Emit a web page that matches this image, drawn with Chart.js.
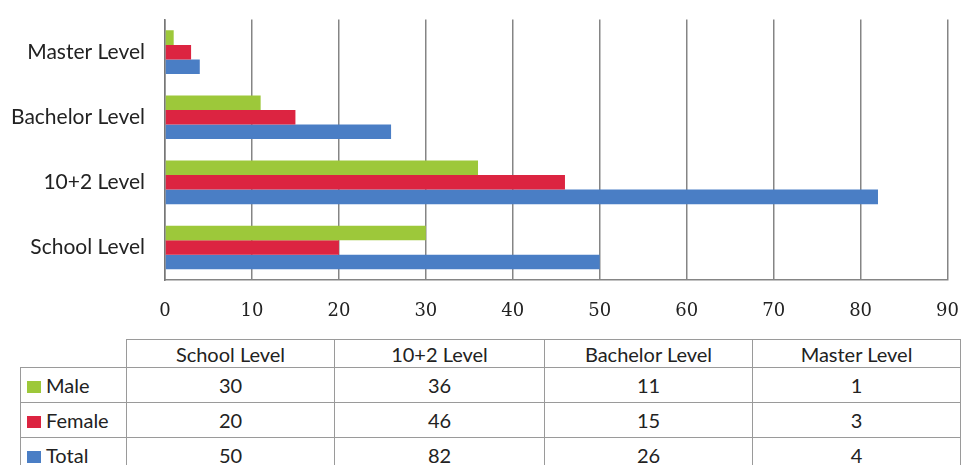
<!DOCTYPE html>
<html>
<head>
	<title>Education levels</title>
	<script src="https://cdn.jsdelivr.net/npm/chart.js@4.4.1/dist/chart.umd.min.js"></script>
	<style>
		body { margin: 0; background: #fff; width: 962px; height: 465px; overflow: hidden; position: relative; }
		#chart-box { position: absolute; left: 0; top: -13px; width: 980px; height: 333px; }
		#data-table { position: absolute; left: 20px; top: 339px; border-collapse: collapse; font-family: Lato, "Noto Sans", sans-serif; font-size: 20px; color: #222; }
		#data-table td, #data-table th { border: 1.5px solid #9a9a9a; text-align: center; font-weight: normal; padding: 0; }
		#data-table th { height: 27px; }
		#data-table td { height: 34px; }
		#data-table .empty { border: none; }
		#data-table .name { text-align: left; padding-left: 6px; width: 99px; }
		.key { display: inline-block; width: 14px; height: 12px; margin-right: 5px; vertical-align: 0px; }
	</style>
</head>
<body>
	<div id="chart-box"><canvas id="chart"></canvas></div>
	<table id="data-table"></table>

	<script>
		var categories = ["School Level", "10+2 Level", "Bachelor Level", "Master Level"];
		var male = [30, 36, 11, 1];
		var female = [20, 46, 15, 3];
		var total = [50, 82, 26, 4];
		var xTicks = [0, 10, 20, 30, 40, 50, 60, 70, 80, 90];

		var series = [
			{ label: "Male", data: male, color: "#9dc83a" },
			{ label: "Female", data: female, color: "#dc2441" },
			{ label: "Total", data: total, color: "#4a7ec5" }
		];

		// table under the chart
		var table = document.getElementById("data-table");
		var html = "<tr><th class='empty'></th>";
		for (var i = 0; i < categories.length; i++) {
			html += "<th style='width:" + (i == 1 ? 209 : 207) + "px'>" + categories[i] + "</th>";
		}
		html += "</tr>";
		for (var s = 0; s < series.length; s++) {
			html += "<tr><td class='name'><span class='key' style='background:" + series[s].color + "'></span>" + series[s].label + "</td>";
			for (var j = 0; j < categories.length; j++) {
				html += "<td>" + series[s].data[j] + "</td>";
			}
			html += "</tr>";
		}
		table.innerHTML = html;

		var datasets = series.map(function(s) {
			return {
				label: s.label,
				data: s.data,
				backgroundColor: s.color,
				barPercentage: 1.0,
				categoryPercentage: 0.67
			};
		});

		var ctx = document.getElementById("chart").getContext("2d");
		window.bar = new Chart(ctx, {
			type: "bar",
			data: { labels: categories, datasets: datasets },
			options: {
				indexAxis: "y",
				responsive: true,
				maintainAspectRatio: false,
				animation: false,
				layout: { padding: 0 },
				plugins: { legend: { display: false }, tooltip: { enabled: false } },
				scales: {
					x: {
						min: 0,
						max: 90,
						afterBuildTicks: function(scale) {
							scale.ticks = xTicks.map(function(v) { return { value: v }; });
						},
						afterFit: function(scale) { scale.height = 40; },
						grid: { color: "#858585", lineWidth: 1.5, drawTicks: false },
						border: { display: true, color: "#858585", width: 1.5 },
						ticks: {
							padding: 21,
							color: "#222",
							font: { family: "'DejaVu Serif', 'Liberation Serif', serif", size: 18 }
						}
					},
					y: {
						reverse: true,
						afterFit: function(scale) { scale.width = 165; },
						grid: { display: false, drawTicks: false },
						border: { display: true, color: "#777", width: 1.5 },
						ticks: {
							padding: 20,
							color: "#222",
							font: { family: "Lato, 'Noto Sans', sans-serif", size: 21 }
						}
					}
				}
			}
		});
	</script>
</body>
</html>
